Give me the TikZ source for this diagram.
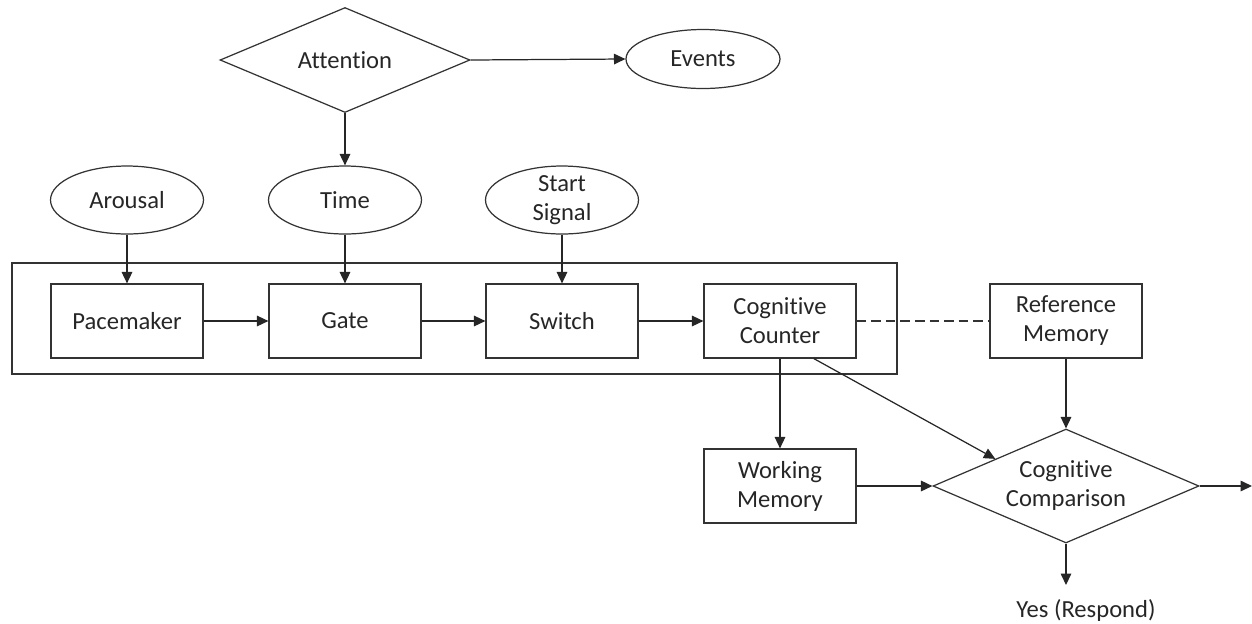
\documentclass[tikz,border=0pt]{standalone}
\usepackage{fontspec}
\setmainfont{Carlito}[Ligatures=NoCommon]
\usetikzlibrary{positioning}
\usetikzlibrary{shapes.geometric, arrows.meta}

\tikzset{
  every node/.style={font=\fontsize{14}{16.5}\selectfont,text=black!85},
  box/.style={rectangle,draw=black!80,line width=0.7pt,minimum width=3.04cm,minimum height=1.48cm,align=center,inner sep=0pt},
  oval/.style={ellipse,draw=black!80,line width=0.7pt,minimum width=3.06cm,minimum height=1.36cm,align=center,inner sep=0pt},
  decide/.style={diamond,draw=black!80,line width=0.7pt,shape aspect=2.35,align=center,inner sep=0pt},
  arr/.style={draw=black!85,line width=0.7pt,-{Triangle[length=6.5pt,width=6pt]}},
}

\begin{document}
\begin{tikzpicture}[x=0.02cm,y=-0.02cm]
\useasboundingbox (0,0) rectangle (1252,623);

\node[decide,minimum width=5cm,minimum height=2.1cm] (attn) at (345,60) {Attention};
\node[oval,minimum width=3.08cm,minimum height=1.18cm] (events) at (703,59) {Events};

\node[oval] (arousal) at (127,200) {Arousal};
\node[oval] (time) at (345,200) {Time};
\node[oval,inner ysep=-3pt] (start) at (562,200) {Start\\Signal};

\draw[black!80,line width=0.7pt] (12,263) rectangle (897,374);
\node[box] (pace) at (127,321) {Pacemaker};
\node[box] (gate) at (345,321) {Gate};
\node[box] (switch) at (562,321) {Switch};
\node[box] (counter) at (780,321) {Cognitive\\Counter};
\node[box] (refmem) at (1066,321) {Reference\\Memory};

\node[box] (work) at (780,486) {Working\\Memory};
\node[decide,minimum width=5.32cm,minimum height=2.28cm] (cmp) at (1066,486) {Cognitive\\Comparison};
\node (yes) at (1086,610) {Yes (Respond)};
\coordinate (out) at (1252,486);
\coordinate (yesend) at (1066,585);

\draw[arr] (attn.east) -- (events.west);
\draw[arr] (attn.south) -- (time.north);
\draw[arr] (arousal.south) -- (pace.north);
\draw[arr] (time.south) -- (gate.north);
\draw[arr] (start.south) -- (switch.north);
\draw[arr] (pace.east) -- (gate.west);
\draw[arr] (gate.east) -- (switch.west);
\draw[arr] (switch.east) -- (counter.west);
\draw[black!80,line width=0.7pt,dash pattern=on 5.5pt off 2.8pt] (counter.east) -- (refmem.west);
\draw[arr] (counter.south) -- (work.north);
\draw[arr] (counter.-48) -- (cmp.159);
\draw[arr] (refmem.south) -- (cmp.north);
\draw[arr] (work.east) -- (cmp.west);
\draw[arr] (cmp.east) -- (out);
\draw[arr] (cmp.south) -- (yesend);

\end{tikzpicture}
\end{document}
